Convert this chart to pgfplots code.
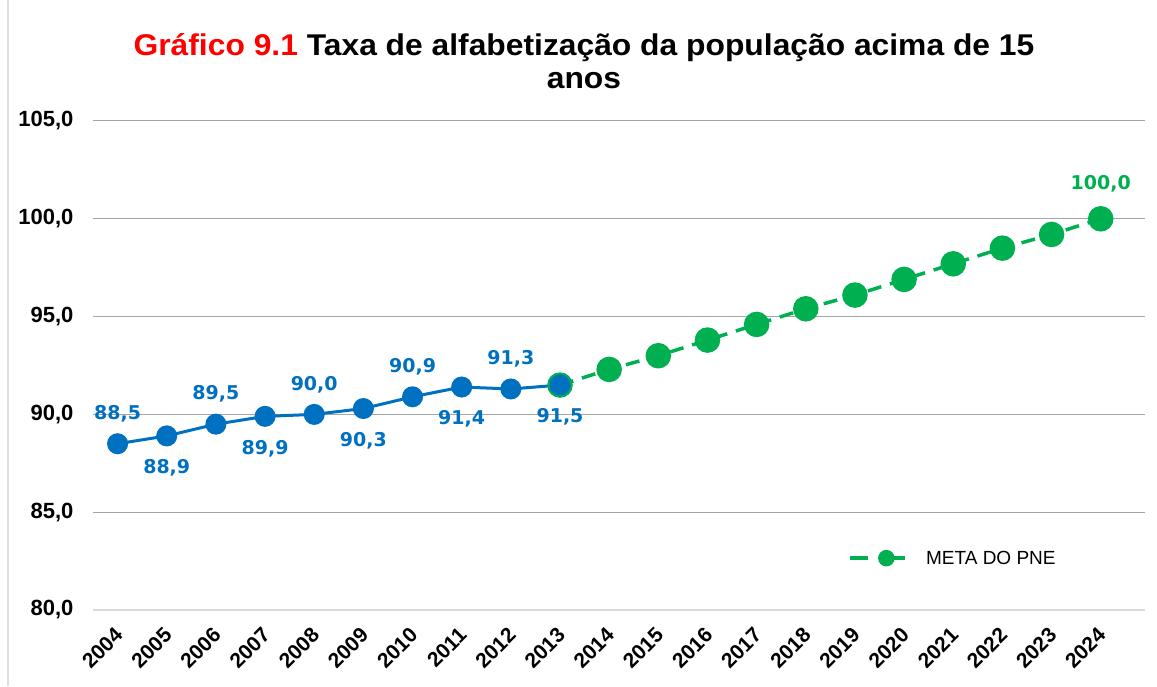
\documentclass[border=0pt]{standalone}
\usepackage{pgfplots}
\pgfplotsset{compat=1.18}
\usepackage{pgfplotstable}
\usepackage{graphicx}
\usepackage{fontspec}
\setmainfont{Liberation Sans}
\newfontfamily\lbl{DejaVu Sans}
\definecolor{cblue}{HTML}{0070C0}
\definecolor{cgreen}{HTML}{00B050}
\definecolor{cred}{HTML}{FF0000}
\definecolor{cgrid}{HTML}{A6A6A6}
\definecolor{cgridl}{HTML}{D9D9D9}

\pgfplotstableread{
x y dy
2004 88.5 30
2005 88.9 -32
2006 89.5 30
2007 89.9 -32
2008 90.0 30
2009 90.3 -32
2010 90.9 30
2011 91.4 -32
2012 91.3 30
2013 91.5 -32
}\realdata

\pgfplotstableread{
x y
2013 91.5
2014 92.3
2015 93.0
2016 93.8
2017 94.6
2018 95.4
2019 96.1
2020 96.9
2021 97.7
2022 98.5
2023 99.2
2024 100.0
}\metadata

\begin{document}
\begin{tikzpicture}
\path[use as bounding box] (-93pt,-76pt) rectangle (1064pt,610pt);
\draw[gray!25, line width=2pt] (-85pt,-76pt) -- (-85pt,610pt);
\begin{axis}[
  at={(0,0)}, anchor=south west,
  scale only axis, width=1052pt, height=489pt,
  xmin=2003.5, xmax=2024.9, ymin=80, ymax=105,
  ytick={85,90,95,100,105},
  extra y ticks={80},
  extra y tick style={grid style={cgridl, line width=1.5pt}},
  xtick={2004,...,2024},
  axis line style={draw=none},
  tick style={draw=none},
  ymajorgrids, grid style={cgrid, line width=1pt},
  yticklabel style={font=\bfseries\fontsize{22}{26}\selectfont, xshift=-16pt,
    /pgf/number format/.cd, use comma, fixed, fixed zerofill, precision=1, assume math mode=true},
  xticklabel style={font=\bfseries\fontsize{21}{25}\selectfont, xshift=-4pt, yshift=-16pt,
    rotate=45, anchor=north east, inner sep=0pt,
    /pgf/number format/.cd, 1000 sep={}, assume math mode=true},
  legend style={at={(rel axis cs:0.715,0.106)}, anchor=west, draw=none, fill=none,
    font=\fontsize{19}{22}\selectfont},
  legend cell align=left,
  legend image code/.code={
    \draw[#1, solid, mark=none, line width=4pt] (0pt,0pt) -- (18pt,0pt);
    \draw[#1, solid, mark=none, line width=4pt] (29pt,0pt) -- (55pt,0pt);
    \draw[#1, solid, only marks, mark size=6.5pt] plot coordinates {(36pt,0pt)};
    \path (72pt,0pt);
  },
]
\addplot[cgreen, line width=3.5pt, dash pattern=on 14pt off 9pt,
  mark=*, mark size=11pt, mark options={solid, fill=cgreen, draw=cgreen}]
  table[x=x, y=y] {\metadata};
\addlegendentry{META DO PNE}

\addplot[cblue, line width=3pt, mark=*, mark size=9pt,
  mark options={fill=cblue, draw=cblue},
  visualization depends on={\thisrow{dy} \as \dy},
  nodes near coords,
  every node near coord/.append style={anchor=center, yshift=\dy,
    font=\lbl\bfseries\fontsize{19}{21}\selectfont, text=cblue,
    /pgf/number format/.cd, use comma, fixed, fixed zerofill, precision=1, assume math mode=true},
  forget plot]
  table[x=x, y=y] {\realdata};

\addplot[draw=none, mark=none,
  nodes near coords,
  every node near coord/.append style={anchor=center, yshift=35pt,
    font=\lbl\bfseries\fontsize{19}{21}\selectfont, text=cgreen,
    /pgf/number format/.cd, use comma, fixed, fixed zerofill, precision=1, assume math mode=true},
  forget plot]
  coordinates {(2024,100.0)};
\end{axis}
\node[align=center, font=\bfseries\fontsize{30}{33}\selectfont] at (491pt,549pt)
  {\scalebox{1.06}[1]{\textcolor{cred}{Gráfico 9.1} Taxa de alfabetização da população acima de 15}\\\scalebox{1.06}[1]{anos}};
\end{tikzpicture}
\end{document}
